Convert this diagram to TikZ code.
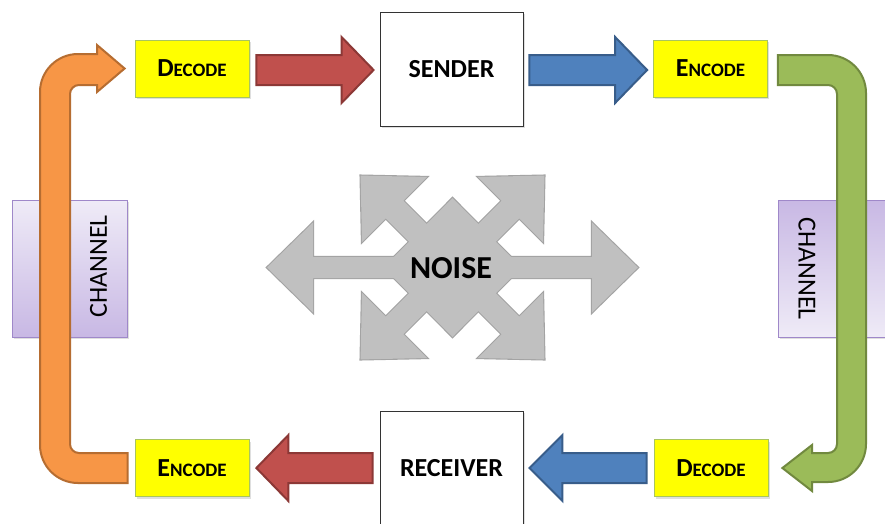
\documentclass[tikz,border=0pt]{standalone}
\usepackage{fontspec}
\setmainfont{Carlito}
\usetikzlibrary{calc,shadows}

\definecolor{arrRed}{HTML}{C0504D}
\definecolor{arrRedD}{HTML}{8C3836}
\definecolor{arrBlue}{HTML}{4F81BD}
\definecolor{arrBlueD}{HTML}{385D8A}
\definecolor{arrOrange}{HTML}{F79646}
\definecolor{arrOrangeD}{HTML}{B66D31}
\definecolor{arrGreen}{HTML}{9BBB59}
\definecolor{arrGreenD}{HTML}{71893F}
\definecolor{codeYellow}{HTML}{FFFF00}
\definecolor{codeEdge}{HTML}{A9C45E}
\definecolor{chLight}{HTML}{EFEBF7}
\definecolor{chDark}{HTML}{C8B8E4}
\definecolor{chEdge}{HTML}{9F88C9}
\definecolor{noiseFill}{HTML}{C0C0C0}
\definecolor{noiseEdge}{HTML}{A3A3A3}

% word set in small capitals: large initial, smaller rest
\newcommand\capword[2]{{\fontsize{26}{30}\selectfont #1}{\fontsize{19}{22}\selectfont #2}}

% straight block arrow: style, tail point, tip point, signed head length
\newcommand\blockarrow[4]{%
  \draw[#1] ($(#2)+(0,-15)$) -- ($(#3)+(#4,-15)$) -- ($(#3)+(#4,-33)$) -- (#3)
    -- ($(#3)+(#4,33)$) -- ($(#3)+(#4,15)$) -- ($(#2)+(0,15)$) -- cycle;}

% the pieces of the noise burst: four diagonal arms, the centre diamond and the double arrow
\newcommand\noisepieces[1]{%
  \foreach \ang in {45,135,225,315}{
    \path[#1,shift={(452.5,267.5)},rotate=\ang]
      (0,-12.5) -- (82,-12.5) -- (82,-46) -- (130,0) -- (82,46) -- (82,12.5) -- (0,12.5) -- cycle;}
  \path[#1] (452.5,198) -- (521.5,267.5) -- (452.5,337) -- (383.5,267.5) -- cycle;
  \path[#1] (267,267.5) -- (313,222.5) -- (313,257) -- (592,257) -- (592,222.5) -- (638,267.5)
    -- (592,312.5) -- (592,278) -- (313,278) -- (313,312.5) -- cycle;}

\begin{document}
\begin{tikzpicture}[x=1pt,y=-1pt,
  softshadow/.style={drop shadow={shadow xshift=1.5pt,shadow yshift=-2pt,opacity=0.25}},
  codebox/.style={rectangle,draw=codeEdge,line width=0.8pt,fill=codeYellow,
    minimum width=114pt,minimum height=57pt,inner sep=0pt,font=\bfseries,softshadow},
  partybox/.style={rectangle,draw=black!80,line width=0.9pt,fill=white,
    minimum width=143pt,minimum height=114pt,inner sep=0pt,
    font=\bfseries\fontsize{26}{30}\selectfont,softshadow},
  chanbox/.style={rectangle,draw=chEdge,line width=0.8pt,minimum width=115pt,
    minimum height=137pt,inner sep=0pt,softshadow},
  chantext/.style={inner sep=0pt,font=\fontsize{26}{30}\selectfont},
  redArrow/.style={fill=arrRed,draw=arrRedD,line width=2pt,line join=miter},
  blueArrow/.style={fill=arrBlue,draw=arrBlueD,line width=2pt,line join=miter},
  orangeArrow/.style={fill=arrOrange,draw=arrOrangeD,line width=2pt,line join=miter},
  greenArrow/.style={fill=arrGreen,draw=arrGreenD,line width=2pt,line join=miter},
  noiseOutline/.style={fill=noiseFill,draw=noiseEdge,line width=2.2pt,line join=miter},
  noiseBody/.style={fill=noiseFill}]

\useasboundingbox (0,0) rectangle (885,523);
\clip (0,0) rectangle (885,523);
\fill[white] (0,0) rectangle (885,523);

% channel panels
\node[chanbox,top color=chLight,bottom color=chDark] (ch1) at (69.5,268.5) {};
\node[chanbox,top color=chDark,bottom color=chLight] (ch2) at (835.5,268.5) {};

% stations
\node[codebox] (dec1) at (192,68.5) {\capword{D}{ECODE}};
\node[partybox] (snd) at (451.5,69) {SENDER};
\node[codebox] (enc1) at (710.5,68.5) {\capword{E}{NCODE}};
\node[codebox] (enc2) at (192,468) {\capword{E}{NCODE}};
\node[partybox] (rcv) at (451.5,468) {RECEIVER};
\node[codebox] (dec2) at (711,468) {\capword{D}{ECODE}};

% straight block arrows between the stations
\coordinate (r1s) at ($(dec1.east)+(7,1.5)$);
\coordinate (r1t) at ($(snd.west)+(-6,1)$);
\coordinate (b1s) at ($(snd.east)+(6,1)$);
\coordinate (b1t) at ($(enc1.west)+(-6,1.5)$);
\coordinate (b2s) at ($(dec2.west)+(-7,0)$);
\coordinate (b2t) at ($(rcv.east)+(6,0)$);
\coordinate (r2s) at ($(rcv.west)+(-7,0)$);
\coordinate (r2t) at ($(enc2.east)+(7,0)$);
\blockarrow{redArrow}{r1s}{r1t}{-32}
\blockarrow{blueArrow}{b1s}{b1t}{-32}
\blockarrow{blueArrow}{b2s}{b2t}{33}
\blockarrow{redArrow}{r2s}{r2t}{32}

% bent arrow up the left channel
\coordinate (oTail) at ($(enc2.west)+(-7,0)$);
\coordinate (oTip) at ($(dec1.west)+(-10,0)$);
\draw[orangeArrow] ($(oTail)+(0,-15)$) -- (79,453) arc[start angle=90,end angle=180,radius=9]
  -- (70,94) arc[start angle=180,end angle=270,radius=9]
  -- (97,85) -- (97,92) -- (oTip) -- (97,45) -- (97,54)
  -- (78,54) arc[start angle=270,end angle=180,radius=38]
  -- (40,445) arc[start angle=180,end angle=90,radius=38]
  -- ($(oTail)+(0,15)$) -- cycle;

% bent arrow down the right channel
\coordinate (gTail) at ($(enc1.east)+(10,1.5)$);
\coordinate (gTip) at ($(dec2.east)+(14,0)$);
\draw[greenArrow] ($(gTail)+(0,-15)$) -- (828,55) arc[start angle=270,end angle=360,radius=38]
  -- (866,444) arc[start angle=0,end angle=90,radius=38]
  -- (812,482) -- (812,491) -- (gTip) -- (812,445) -- (812,453)
  -- (828,453) arc[start angle=90,end angle=0,radius=9]
  -- (837,94) arc[start angle=0,end angle=-90,radius=9]
  -- ($(gTail)+(0,15)$) -- cycle;

% channel labels
\node[chantext,rotate=90] (ch1txt) at (98.5,266.5) {CHANNEL};
\node[chantext,rotate=-90] (ch2txt) at (807,268.5) {CHANNEL};

% noise burst: outline pass, then fill pass hides the inner seams
\noisepieces{noiseOutline}
\noisepieces{noiseBody}
\node[inner sep=0pt,font=\bfseries\fontsize{32}{36}\selectfont] (noise) at (451,268) {NOISE};

\end{tikzpicture}
\end{document}
